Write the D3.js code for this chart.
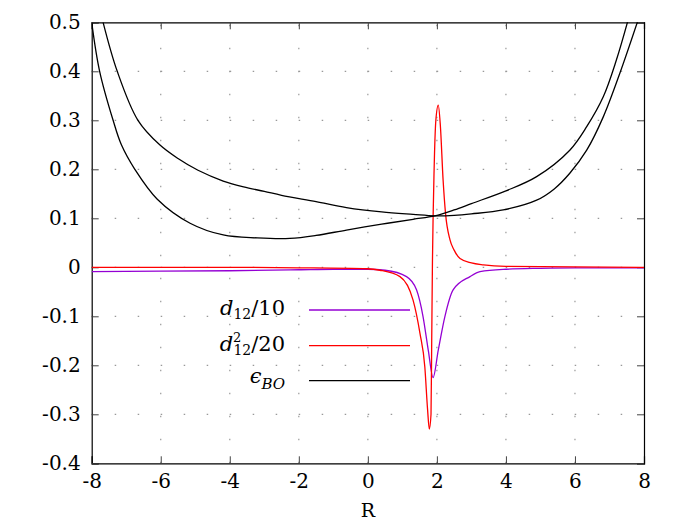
<!DOCTYPE html>
<html>
<head>
<meta charset="utf-8">
<script src="https://cdn.jsdelivr.net/npm/d3@7"></script>
<style>
body{margin:0;background:#fff}
svg text{font-family:"DejaVu Serif",serif;fill:#000}
</style>
</head>
<body>
<div id="chart"></div>
<script>
var width = 675
var height = 525
var margin = {left:91.7, right:31, top:22.3, bottom:61.7}

// ticks
var xTicks = [-8,-6,-4,-2,0,2,4,6,8]
var xTickLabels = ["-8","-6","-4","-2","0","2","4","6","8"]
var yTicks = [-0.4,-0.3,-0.2,-0.1,0,0.1,0.2,0.3,0.4,0.5]
var yTickLabels = ["-0.4","-0.3","-0.2","-0.1","0","0.1","0.2","0.3","0.4","0.5"]

// eps_BO, two branches
var boLowerX = [-8,-7.77,-7.38,-7.14,-6.75,-6.1,-5.15,-4.19,-3.2,-2.26,-1.5,-0.62,0.4,1.31,1.94,2.5,3.0,4,4.89,5.85,6.34,6.82,7.2,7.54]
var boLowerY = [0.5,0.40,0.30,0.25,0.20,0.139,0.090,0.066,0.060,0.059,0.065,0.076,0.088,0.098,0.105,0.117,0.130,0.156,0.185,0.239,0.287,0.348,0.423,0.505]
var boUpperX = [-7.67,-7.26,-6.66,-6.03,-5.5,-4.92,-4.19,-3.6,-3.0,-2.5,-1.5,-0.62,0.4,1.31,1.94,2.5,3.0,3.92,4.89,5.4,5.85,6.34,6.82,7.3,7.83]
var boUpperY = [0.5,0.40,0.30,0.25,0.222,0.198,0.176,0.164,0.155,0.147,0.134,0.122,0.113,0.108,0.105,0.106,0.109,0.117,0.137,0.160,0.192,0.239,0.307,0.396,0.505]

// d12/10
var d12X = [-8,-6,-4,-2,-1,0,0.5,1.12,1.41,1.6,1.75,1.89,2.04,2.23,2.47,2.96,3.25,4,5,6,8]
var d12Y = [-0.009,-0.008,-0.007,-0.005,-0.004,-0.004,-0.006,-0.019,-0.046,-0.101,-0.169,-0.225,-0.169,-0.101,-0.046,-0.019,-0.009,-0.004,-0.002,-0.001,-0.001]

// d12^2/20
var d12sqX = [-8,-4,-2,0,0.35,0.93,1.31,1.51,1.65,1.73,1.78,1.83,1.85,1.87,1.92,1.97,2.04,2.1,2.18,2.25,2.38,2.5,2.67,3,3.35,4,8]
var d12sqY = [0,0,-0.001,-0.003,-0.006,-0.019,-0.067,-0.135,-0.203,-0.29,-0.330,-0.30,-0.15,0,0.2,0.30,0.331,0.29,0.178,0.11,0.056,0.035,0.018,0.009,0.005,0.002,0]

var x = d3.scaleLinear()
.domain([-8,8])
.range([margin.left, width-margin.right])

var y = d3.scaleLinear()
.domain([-0.4,0.5])
.range([height-margin.bottom, margin.top])

var svg = d3.select("#chart").append("svg")
.attr("width",width)
.attr("height",height)

svg.append("clipPath").attr("id","clip")
.append("rect")
.attr("x",x(-8)).attr("y",y(0.5))
.attr("width",x(8)-x(-8)).attr("height",y(-0.4)-y(0.5))

// grid, dotted
var grid = svg.append("g").style("stroke","#999").style("stroke-width",1.2).style("stroke-dasharray","1.5,21.5")
grid.selectAll(".gx").data(xTicks.slice(1,-1)).enter().append("line")
.attr("x1",d=>x(d)).attr("x2",d=>x(d))
.attr("y1",y(-0.4)).attr("y2",y(0.5))
grid.selectAll(".gy").data(yTicks.slice(1,-1)).enter().append("line")
.attr("y1",d=>y(d)).attr("y2",d=>y(d))
.attr("x1",x(-8)).attr("x2",x(8))

// axes with inward ticks on all sides
svg.append("g")
.attr("transform","translate(0,"+y(-0.4)+")")
.call(d3.axisBottom(x).tickValues(xTicks).tickSize(-7).tickPadding(11).tickFormat((d,i)=>xTickLabels[i]))
svg.append("g")
.attr("transform","translate(0,"+y(0.5)+")")
.call(d3.axisTop(x).tickValues(xTicks).tickSize(-7).tickFormat(""))
svg.append("g")
.attr("transform","translate("+x(-8)+",0)")
.call(d3.axisLeft(y).tickValues(yTicks).tickSize(-7).tickPadding(11).tickFormat((d,i)=>yTickLabels[i]))
svg.append("g")
.attr("transform","translate("+x(8)+",0)")
.call(d3.axisRight(y).tickValues(yTicks).tickSize(-7).tickFormat(""))

svg.selectAll("g").attr("font-family",null).attr("font-size",null)
svg.selectAll(".domain").style("stroke","#000").style("stroke-width",1.2)
svg.selectAll(".tick line").style("stroke","#444")
svg.selectAll(".tick text")
.style("font-family","'DejaVu Serif', serif")
.style("font-size","20px")
.style("font-weight","normal")

svg.append("text")
.attr("x",x(0))
.attr("y",517)
.attr("text-anchor","middle")
.style("font-size","19px")
.text("R")

var smooth = d3.line()
.x(d=>x(d[0]))
.y(d=>y(d[1]))
.curve(d3.curveCatmullRom.alpha(0.5))

var sharp = d3.line()
.x(d=>x(d[0]))
.y(d=>y(d[1]))
.curve(d3.curveMonotoneX)

function zip(a,b){ return a.map((v,i)=>[v,b[i]]) }

var plot = svg.append("g").attr("clip-path","url(#clip)")
plot.append("path").datum(zip(d12X,d12Y))
.attr("d",sharp).style("fill","none").style("stroke","#9400d3").style("stroke-width",1.3)
plot.append("path").datum(zip(d12sqX,d12sqY))
.attr("d",sharp).style("fill","none").style("stroke","#ff0000").style("stroke-width",1.3)
plot.append("path").datum(zip(boLowerX,boLowerY))
.attr("d",smooth).style("fill","none").style("stroke","#000").style("stroke-width",1.3)
plot.append("path").datum(zip(boUpperX,boUpperY))
.attr("d",smooth).style("fill","none").style("stroke","#000").style("stroke-width",1.3)

// legend
var legColors = ["#9400d3","#ff0000","#000"]
var legY = [310,345.7,380.7]
var leg = svg.append("g")
leg.selectAll("line").data(legColors).enter().append("line")
.attr("x1",309).attr("x2",410)
.attr("y1",(d,i)=>legY[i]).attr("y2",(d,i)=>legY[i])
.style("stroke",d=>d).style("stroke-width",1.3)

var t1 = leg.append("text").attr("x",285).attr("y",legY[0]+5).attr("text-anchor","end").style("font-size","21px")
t1.append("tspan").style("font-style","italic").text("d")
t1.append("tspan").attr("dy",4).style("font-size","14px").text("12")
t1.append("tspan").attr("dy",-4).text("/10")

var t2 = leg.append("text").attr("x",285).attr("y",legY[1]+5).attr("text-anchor","end").style("font-size","21px")
t2.append("tspan").style("font-style","italic").text("d")
t2.append("tspan").attr("dy",-9).style("font-size","13px").text("2")
t2.append("tspan").attr("dy",13).attr("dx",-8).style("font-size","14px").text("12")
t2.append("tspan").attr("dy",-4).text("/20")

var t3 = leg.append("text").attr("x",285).attr("y",legY[2]+2).attr("text-anchor","end").style("font-size","21px")
t3.append("tspan").style("font-style","italic").text("ϵ")
t3.append("tspan").attr("dy",6).style("font-size","15px").style("font-style","italic").text("BO")
</script>
</body>
</html>
